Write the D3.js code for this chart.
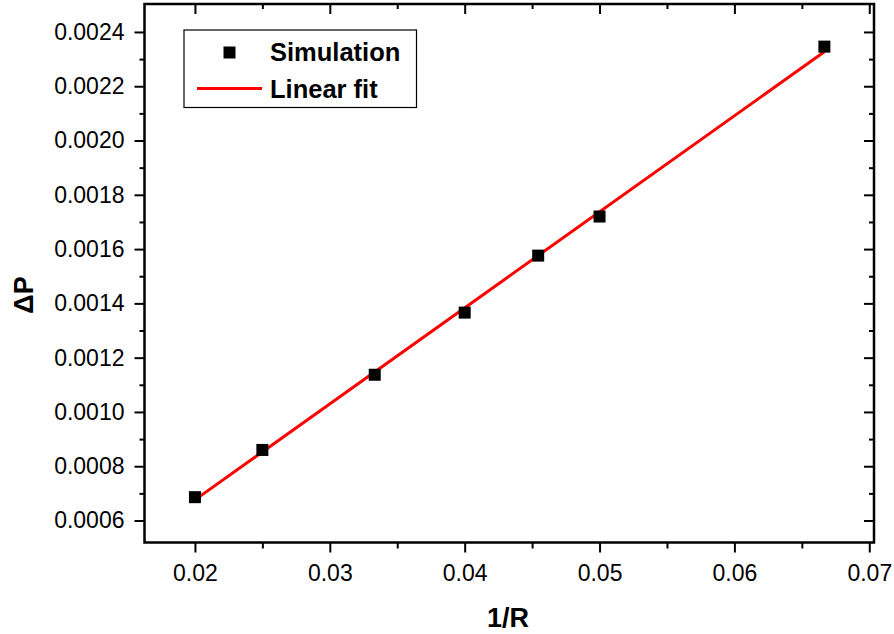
<!DOCTYPE html>
<html><head><meta charset="utf-8">
<script src="https://cdn.jsdelivr.net/npm/d3@7"></script>
<style>body{margin:0;background:#fff}svg{display:block}text{font-family:"Liberation Sans",Arial,sans-serif}</style>
</head><body>
<svg id="c" width="894" height="634"></svg>
<script>
const invR = [0.02, 0.025, 0.03333, 0.04, 0.04545, 0.05, 0.06667];
const dP = [0.000686, 0.00086, 0.001137, 0.001366, 0.001576, 0.00172, 0.002346];
const fitX = [0.02, 0.06667];
const fitY = [0.000676, 0.002327];
const xTicks = [0.02, 0.03, 0.04, 0.05, 0.06, 0.07];
const yTicks = [0.0006, 0.0008, 0.0010, 0.0012, 0.0014, 0.0016, 0.0018, 0.0020, 0.0022, 0.0024];
const legendLabels = ["Simulation", "Linear fit"];

const svg = d3.select("#c");
const L = 144.5, R = 874, T = 4, B = 542.5;
const x = d3.scaleLinear().domain([0.01626, 0.07035]).range([L, R]);
const y = d3.scaleLinear().domain([0.000519, 0.002503]).range([B, T]);

const xMinor = d3.range(0.02, 0.0701, 0.005).map(v => +v.toFixed(4)).filter(v => !xTicks.some(t => Math.abs(t - v) < 1e-9));
const yMinor = d3.range(0.0006, 0.00245, 0.0001).map(v => +v.toFixed(5)).filter(v => !yTicks.some(t => Math.abs(t - v) < 1e-9));

function styleAxis(g){ g.select(".domain").remove(); g.selectAll("line").attr("stroke","#000").attr("stroke-width",2); g.selectAll("text").attr("font-size",23).attr("fill","#000"); }

// bottom axis
svg.append("g").attr("transform",`translate(0,${B})`)
  .call(d3.axisBottom(x).tickValues(xTicks).tickSize(10).tickPadding(12).tickFormat(d3.format(".2f"))).call(styleAxis);
svg.append("g").attr("transform",`translate(0,${B})`)
  .call(d3.axisBottom(x).tickValues(xMinor).tickSize(6).tickFormat("")).call(styleAxis);
// top axis (inward)
svg.append("g").attr("transform",`translate(0,${T})`)
  .call(d3.axisTop(x).tickValues(xTicks).tickSize(-10).tickFormat("")).call(styleAxis);
svg.append("g").attr("transform",`translate(0,${T})`)
  .call(d3.axisTop(x).tickValues(xMinor).tickSize(-5).tickFormat("")).call(styleAxis);
// left axis
svg.append("g").attr("transform",`translate(${L},0)`)
  .call(d3.axisLeft(y).tickValues(yTicks).tickSize(10).tickPadding(10).tickFormat(d3.format(".4f"))).call(styleAxis);
svg.append("g").attr("transform",`translate(${L},0)`)
  .call(d3.axisLeft(y).tickValues(yMinor).tickSize(5).tickFormat("")).call(styleAxis);
// right axis (inward)
svg.append("g").attr("transform",`translate(${R},0)`)
  .call(d3.axisRight(y).tickValues(yTicks).tickSize(-10).tickFormat("")).call(styleAxis);
svg.append("g").attr("transform",`translate(${R},0)`)
  .call(d3.axisRight(y).tickValues(yMinor).tickSize(-5).tickFormat("")).call(styleAxis);

// frame
svg.append("rect").attr("x",L).attr("y",T).attr("width",R-L).attr("height",B-T)
  .attr("fill","none").attr("stroke","#000").attr("stroke-width",2.5);

// fit line
svg.append("path").datum(fitX.map((v,i)=>[v,fitY[i]]))
  .attr("d", d3.line().x(d=>x(d[0])).y(d=>y(d[1])))
  .attr("stroke","#ff0000").attr("stroke-width",3).attr("fill","none");

// points
const s = 12;
svg.append("g").selectAll("rect").data(invR.map((v,i)=>[v,dP[i]])).join("rect")
  .attr("x", d=>x(d[0])-s/2).attr("y", d=>y(d[1])-s/2).attr("width",s).attr("height",s).attr("fill","#000");

// legend
svg.append("rect").attr("x",184).attr("y",30).attr("width",232.5).attr("height",77.5)
  .attr("fill","#fff").attr("stroke","#000").attr("stroke-width",1.2);
svg.append("rect").attr("x",229.5-6).attr("y",52.5-6).attr("width",12).attr("height",12).attr("fill","#000");
svg.append("line").attr("x1",197).attr("x2",262).attr("y1",88.5).attr("y2",88.5).attr("stroke","#ff0000").attr("stroke-width",3);
svg.append("text").attr("x",270).attr("y",61).attr("font-size",25.5).attr("font-weight","bold").text(legendLabels[0]);
svg.append("text").attr("x",270).attr("y",97.5).attr("font-size",25.5).attr("font-weight","bold").text(legendLabels[1]);

// axis titles
svg.append("text").attr("x",508).attr("y",627).attr("text-anchor","middle").attr("font-size",27).attr("font-weight","bold").text("1/R");
svg.append("text").attr("transform","translate(33,295) rotate(-90)").attr("text-anchor","middle").attr("font-size",27).attr("font-weight","bold").text("ΔP");
</script>
</body></html>
